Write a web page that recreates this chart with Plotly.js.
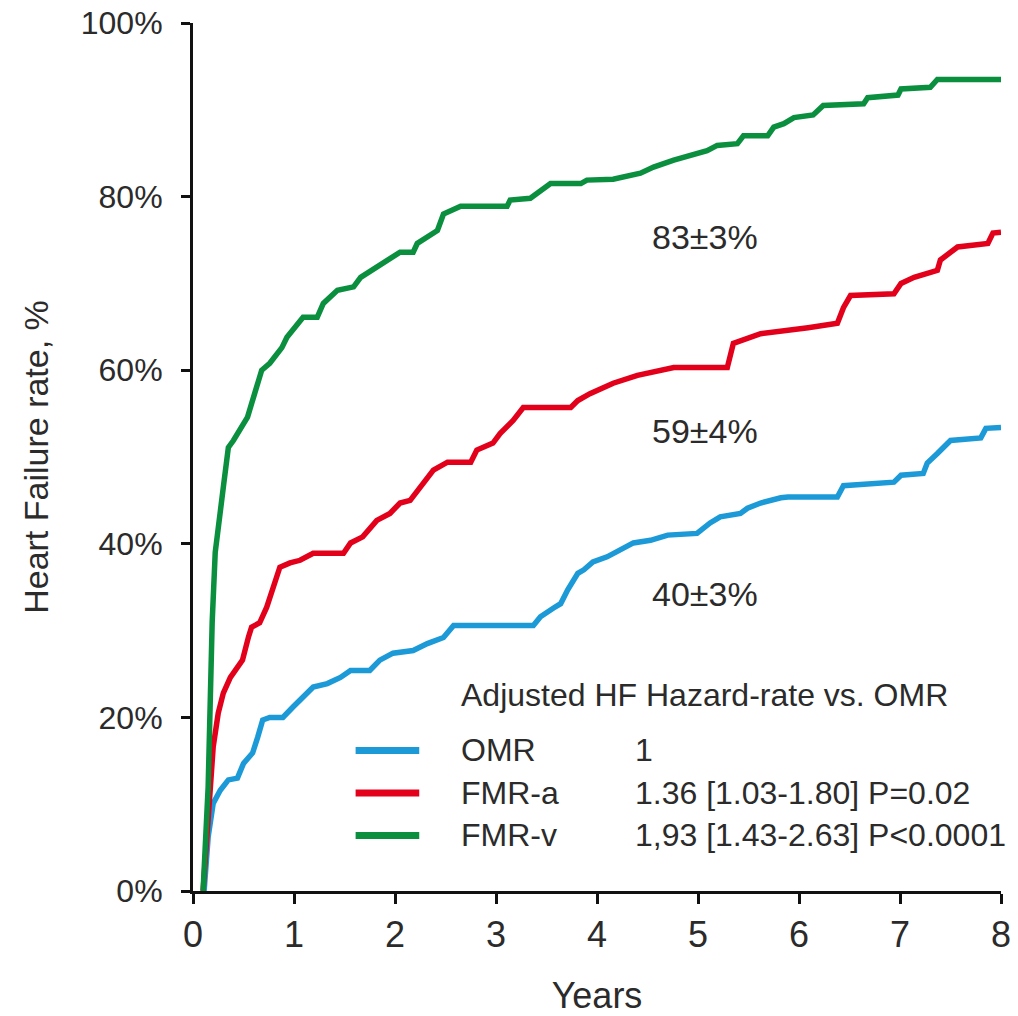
<!DOCTYPE html>
<html>
<head>
<meta charset="utf-8">
<script src="https://cdn.plot.ly/plotly-3.0.1.min.js"></script>
<style>html,body{margin:0;padding:0;background:#fff}#chart{width:1018px;height:1016px}</style>
</head>
<body>
<div id="chart"></div>
<script>
// ---- data ----
const seriesNames = ['OMR', 'FMR-a', 'FMR-v'];
const seriesColors = ['#1b9ad7', '#e3001b', '#0a8f3f'];

const omrYears = [0.11, 0.15, 0.20, 0.27, 0.35, 0.44, 0.50, 0.59, 0.64, 0.69, 0.76, 0.89, 0.99, 1.09, 1.19, 1.33, 1.46, 1.56, 1.75, 1.85, 1.98, 2.18, 2.32, 2.48, 2.58, 3.37, 3.44, 3.57, 3.64, 3.71, 3.81, 3.87, 3.96, 4.10, 4.23, 4.36, 4.53, 4.70, 4.99, 5.12, 5.22, 5.42, 5.49, 5.62, 5.82, 5.89, 6.38, 6.44, 6.94, 7.01, 7.23, 7.27, 7.37, 7.43, 7.50, 7.80, 7.85, 8.0];
const omrRate = [0, 6.2, 10.1, 11.6, 12.8, 13.0, 14.7, 15.9, 17.7, 19.7, 20.0, 20.0, 21.2, 22.3, 23.5, 23.9, 24.6, 25.4, 25.4, 26.6, 27.4, 27.7, 28.5, 29.2, 30.6, 30.6, 31.6, 32.6, 33.1, 34.7, 36.6, 37.0, 37.9, 38.5, 39.3, 40.1, 40.4, 41.0, 41.2, 42.4, 43.1, 43.5, 44.1, 44.7, 45.3, 45.4, 45.4, 46.7, 47.1, 47.9, 48.1, 49.3, 50.4, 51.1, 51.9, 52.2, 53.3, 53.4];

const fmraYears = [0.1, 0.17, 0.20, 0.25, 0.30, 0.37, 0.49, 0.55, 0.58, 0.66, 0.73, 0.86, 0.96, 1.06, 1.19, 1.49, 1.56, 1.68, 1.82, 1.95, 2.05, 2.15, 2.25, 2.38, 2.52, 2.75, 2.81, 2.97, 3.04, 3.17, 3.27, 3.74, 3.81, 3.93, 4.16, 4.40, 4.76, 5.29, 5.35, 5.62, 6.09, 6.38, 6.44, 6.51, 6.94, 7.01, 7.14, 7.37, 7.40, 7.57, 7.87, 7.92, 8.0];
const fmraRate = [0, 12, 16.6, 20.5, 22.8, 24.6, 26.6, 29.3, 30.4, 30.9, 32.7, 37.3, 37.8, 38.1, 38.9, 38.9, 40.1, 40.8, 42.7, 43.5, 44.7, 45.0, 46.5, 48.5, 49.4, 49.4, 50.8, 51.6, 52.7, 54.2, 55.7, 55.7, 56.5, 57.3, 58.5, 59.4, 60.3, 60.3, 63.1, 64.2, 64.9, 65.4, 67.2, 68.6, 68.8, 70.0, 70.7, 71.5, 72.7, 74.2, 74.6, 75.8, 75.9];

const fmrvYears = [0.1, 0.15, 0.19, 0.22, 0.30, 0.35, 0.40, 0.54, 0.61, 0.68, 0.76, 0.88, 0.93, 1.09, 1.23, 1.29, 1.43, 1.59, 1.66, 1.92, 2.05, 2.18, 2.22, 2.42, 2.48, 2.65, 3.11, 3.14, 3.34, 3.54, 3.84, 3.90, 4.16, 4.43, 4.56, 4.76, 4.90, 5.09, 5.19, 5.39, 5.45, 5.69, 5.75, 5.85, 5.95, 6.14, 6.24, 6.64, 6.68, 6.98, 7.01, 7.30, 7.37, 8.0];
const fmrvRate = [0, 12, 31, 39, 46.5, 51.1, 51.9, 54.6, 57.3, 60.0, 60.8, 62.6, 63.8, 66.1, 66.1, 67.7, 69.2, 69.6, 70.7, 72.7, 73.6, 73.6, 74.6, 76.1, 78.0, 78.9, 78.9, 79.6, 79.8, 81.5, 81.5, 81.9, 82.0, 82.7, 83.4, 84.2, 84.7, 85.3, 85.9, 86.1, 87.0, 87.0, 88.0, 88.4, 89.1, 89.4, 90.5, 90.7, 91.4, 91.7, 92.4, 92.6, 93.5, 93.5];

const estimateLabels = ['40±3%', '59±4%', '83±3%'];
const estimateYear = [5.07, 5.07, 5.07];
const estimateRate = [34.2, 53.0, 75.3];

const hazardTitle = 'Adjusted HF Hazard-rate vs. OMR';
const hazardValues = ['1', '1.36 [1.03-1.80] P=0.02', '1,93 [1.43-2.63] P<0.0001'];

const xTickVals = [0, 1, 2, 3, 4, 5, 6, 7, 8];
const yTickVals = [0, 20, 40, 60, 80, 100];
const yTickText = ['0%', '20%', '40%', '60%', '80%', '100%'];

// ---- legend placement (data coords) ----
const legX0 = 1.61, legX1 = 2.24, legTextX = 2.63, legValX = 4.36;
const legY = [16.2, 11.3, 6.4];
const legTitleY = 22.6;

const FONT = 'Liberation Sans, Arial, Helvetica, sans-serif';
const TXT = '#2b2b2b';

const xs = [omrYears, fmraYears, fmrvYears];
const ys = [omrRate, fmraRate, fmrvRate];

const traces = seriesNames.map((n, i) => ({
  type: 'scatter', mode: 'lines', name: n,
  x: xs[i], y: ys[i],
  line: {color: seriesColors[i], width: 5.5, shape: 'linear'},
  cliponaxis: false,
  showlegend: false
}));

const annotations = [];
estimateLabels.forEach((t, i) => annotations.push({
  x: estimateYear[i], y: estimateRate[i], xref: 'x', yref: 'y', text: t,
  showarrow: false, xanchor: 'center', yanchor: 'middle',
  font: {family: FONT, size: 34, color: TXT}
}));
annotations.push({
  x: legTextX, y: legTitleY, xref: 'x', yref: 'y', text: hazardTitle,
  showarrow: false, xanchor: 'left', yanchor: 'middle',
  font: {family: FONT, size: 32, color: TXT}
});
const shapes = [];
seriesNames.forEach((n, i) => {
  annotations.push({
    x: legTextX, y: legY[i], xref: 'x', yref: 'y', text: n,
    showarrow: false, xanchor: 'left', yanchor: 'middle',
    font: {family: FONT, size: 32, color: TXT}
  });
  annotations.push({
    x: legValX, y: legY[i], xref: 'x', yref: 'y', text: hazardValues[i],
    showarrow: false, xanchor: 'left', yanchor: 'middle',
    font: {family: FONT, size: 32, color: TXT}
  });
  shapes.push({
    type: 'line', xref: 'x', yref: 'y',
    x0: legX0, x1: legX1, y0: legY[i], y1: legY[i],
    line: {color: seriesColors[i], width: 7}
  });
});

const layout = {
  width: 1018, height: 1016,
  margin: {l: 193, r: 17, t: 23, b: 125},
  paper_bgcolor: '#ffffff', plot_bgcolor: '#ffffff',
  font: {family: FONT, color: TXT},
  showlegend: false,
  xaxis: {
    range: [0, 8], tickvals: xTickVals,
    showgrid: false, zeroline: false,
    showline: true, linecolor: '#111', linewidth: 3,
    ticks: 'outside', ticklen: 10, tickwidth: 3, tickcolor: '#111',
    tickfont: {family: FONT, size: 36, color: TXT},
    title: {text: 'Years', font: {family: FONT, size: 36, color: TXT}, standoff: 32}
  },
  yaxis: {
    range: [0, 100], tickvals: yTickVals, ticktext: yTickText,
    showgrid: false, zeroline: false,
    showline: true, linecolor: '#111', linewidth: 3,
    ticks: 'outside', ticklen: 9, tickwidth: 3, tickcolor: '#111',
    ticklabelstandoff: 12,
    tickfont: {family: FONT, size: 32, color: TXT},
    title: {text: 'Heart Failure rate, %', font: {family: FONT, size: 34, color: TXT}, standoff: 22}
  },
  annotations: annotations,
  shapes: shapes
};

Plotly.newPlot('chart', traces, layout, {displayModeBar: false, staticPlot: true});
</script>
</body>
</html>
